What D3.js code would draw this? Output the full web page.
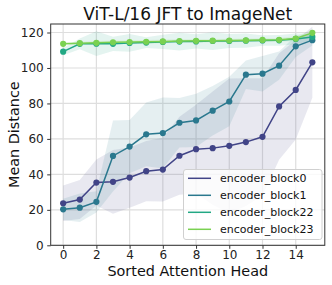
<!DOCTYPE html>
<html><head><meta charset="utf-8">
<script src="https://cdn.jsdelivr.net/npm/d3@7"></script>
<style>html,body{margin:0;padding:0;background:#fff;}svg{display:block;font-family:"DejaVu Sans",sans-serif;}</style>
</head><body>
<svg id="c" width="332" height="285"></svg>
<script>
const heads = d3.range(16);
const seriesNames = ["encoder_block0","encoder_block1","encoder_block22","encoder_block23"];
const colors = ["#414487","#2a788e","#22a884","#7ad151"];
const block0 = [23.7,25.8,35.4,35.8,38.2,41.8,42.7,50.5,54.2,54.8,56.1,58.2,61.2,78.3,87.6,103.2];
const block1 = [20.3,21.2,24.5,50.4,55.7,62.6,63.3,69.1,70.4,75.9,81.1,96.2,96.8,101.3,112.2,115.7];
const block22 = [109.2,113.6,113.7,113.6,114.1,114.3,114.7,114.9,115.0,115.2,115.2,115.4,115.5,115.6,116.4,117.5];
const block23 = [113.6,114.0,114.2,114.5,114.6,114.8,115.0,115.2,115.3,115.4,115.5,115.6,115.8,115.9,116.6,119.8];
const block0Sd = [10,11,13,18,17,17,18,22,25,32,38,36,33,30,28,20];
const block1Sd = [6,8,6,20,15,18,20,14,15,14,14,8,10,8,6,3];
const block22Sd = [2,3,7,4,5,3,4,5,4,5,4,4,3,3,3,2];
const block23Sd = [0.8,0.8,1,1,1,1,1,1,1,1,1,1,1,1,1.5,1.5];
const xTicks = [0,2,4,6,8,10,12,14];
const yTicks = [0,20,40,60,80,100,120];

const values = [block0, block1, block22, block23];
const sds = [block0Sd, block1Sd, block22Sd, block23Sd];

const L = 50.7, R = 324.8, T = 24, B = 245.3;
const svg = d3.select("#c");
const x = d3.scaleLinear().domain([-0.75, 15.75]).range([L, R]);
const y = d3.scaleLinear().domain([0, 124.8]).range([B, T]);

const g = svg.append("g");
g.selectAll(".gx").data(xTicks).join("line")
  .attr("x1", d => x(d)).attr("x2", d => x(d)).attr("y1", T).attr("y2", B)
  .attr("stroke", "#dedede").attr("stroke-width", 1.2);
g.selectAll(".gy").data(yTicks).join("line")
  .attr("x1", L).attr("x2", R).attr("y1", d => y(d)).attr("y2", d => y(d))
  .attr("stroke", "#dedede").attr("stroke-width", 1.2);

const area = d3.area().x((d, i) => x(i)).y0(d => y(d[0])).y1(d => y(d[1]));
const line = d3.line().x((d, i) => x(i)).y(d => y(d));

values.forEach((vals, k) => {
  const band = vals.map((v, i) => [v - sds[k][i], v + sds[k][i]]);
  svg.append("path").datum(band).attr("d", area)
    .attr("fill", colors[k]).attr("fill-opacity", 0.12).attr("stroke", "none");
});
values.forEach((vals, k) => {
  svg.append("path").datum(vals).attr("d", line)
    .attr("fill", "none").attr("stroke", colors[k]).attr("stroke-width", 1.5);
  svg.append("g").selectAll("circle").data(vals).join("circle")
    .attr("cx", (d, i) => x(heads[i])).attr("cy", d => y(d)).attr("r", 3.1)
    .attr("fill", colors[k]);
});

svg.append("rect").attr("x", L).attr("y", T).attr("width", R - L).attr("height", B - T)
  .attr("fill", "none").attr("stroke", "#333").attr("stroke-width", 1);

const xa = svg.append("g").attr("transform", `translate(0,${B})`)
  .call(d3.axisBottom(x).tickValues(xTicks).tickSize(3.5).tickPadding(2));
const ya = svg.append("g").attr("transform", `translate(${L},0)`)
  .call(d3.axisLeft(y).tickValues(yTicks).tickSize(3.5).tickPadding(3.5));
[xa, ya].forEach(a => {
  a.select(".domain").remove();
  a.selectAll("line").attr("stroke", "#333");
  a.selectAll("text").attr("font-size", 12).attr("fill", "#222").attr("font-family", "DejaVu Sans");
});

svg.append("text").attr("x", (L + R) / 2).attr("y", 20).attr("text-anchor", "middle")
  .attr("font-size", 17).attr("fill", "#111").text("ViT-L/16 JFT to ImageNet");
svg.append("text").attr("x", (L + R) / 2).attr("y", 276).attr("text-anchor", "middle")
  .attr("font-size", 14.4).attr("fill", "#111").text("Sorted Attention Head");
svg.append("text").attr("transform", `translate(19,${(T + B) / 2}) rotate(-90)`)
  .attr("text-anchor", "middle").attr("font-size", 14.4).attr("fill", "#111").text("Mean Distance");

const lg = svg.append("g");
lg.append("rect").attr("x", 183.5).attr("y", 169.5).attr("width", 138.5).attr("height", 70)
  .attr("rx", 2.5).attr("fill", "#fff").attr("fill-opacity", 0.8).attr("stroke", "#d0d0d0");
seriesNames.forEach((n, k) => {
  const yy = 178.3 + k * 17;
  lg.append("line").attr("x1", 188).attr("x2", 211).attr("y1", yy).attr("y2", yy)
    .attr("stroke", colors[k]).attr("stroke-width", 1.5);
  lg.append("text").attr("x", 220).attr("y", yy + 4).attr("font-size", 11).attr("fill", "#111").text(n);
});
</script>
</body></html>
